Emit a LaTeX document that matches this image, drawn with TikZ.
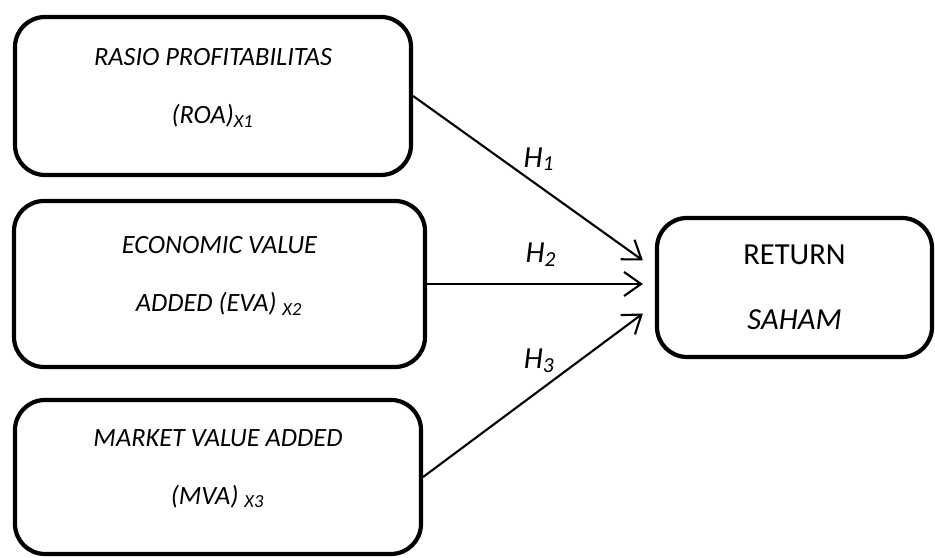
\documentclass[tikz,border=0pt]{standalone}
\usepackage{fontspec}
\setmainfont{Carlito}
\usetikzlibrary{arrows.meta}
\begin{document}
\begin{tikzpicture}[semithick,
    var node/.style={draw,very thick,rounded corners=0.3cm,align=center,text depth=0.2cm,
      font=\itshape\fontsize{7.5}{16.5}\selectfont},
    hyp/.style={font=\itshape\fontsize{8.7}{10}\selectfont},
    >={Straight Barb[length=1.7mm,width=2.4mm]}
   ]
  \useasboundingbox (0,0) rectangle (9.35,5.58);
  \node[var node,minimum width=3.96cm,minimum height=1.58cm] (x1) at (2.13,4.62)
    {RASIO PROFITABILITAS\\(ROA)\textsubscript{X1}};
  \node[var node,minimum width=4.11cm,minimum height=1.66cm] (x2) at (2.195,2.74)
    {ECONOMIC VALUE\\ADDED (EVA) \textsubscript{X2}};
  \node[var node,minimum width=4.06cm,minimum height=1.54cm] (x3) at (2.18,0.81)
    {MARKET VALUE ADDED\\(MVA) \textsubscript{X3}};
  \node[var node,text depth=,font=\fontsize{8.7}{18.5}\selectfont,
        minimum width=2.75cm,minimum height=1.39cm] (y) at (7.945,2.705)
    {RETURN\\\textit{SAHAM}};

  \path[->]%
   (x1.east) edge node[hyp,pos=0.55,above=0.03cm] {H\textsubscript{1}} ([xshift=-0.12cm,yshift=0.27cm]y.west)
   (x2.east) edge node[hyp,pos=0.53,above=0.05cm] {H\textsubscript{2}} ([xshift=-0.12cm]y.west |- x2.east)
   (x3.east) edge node[hyp,pos=0.53,above=0.05cm] {H\textsubscript{3}} ([xshift=-0.12cm,yshift=-0.26cm]y.west);
\end{tikzpicture}
\end{document}
